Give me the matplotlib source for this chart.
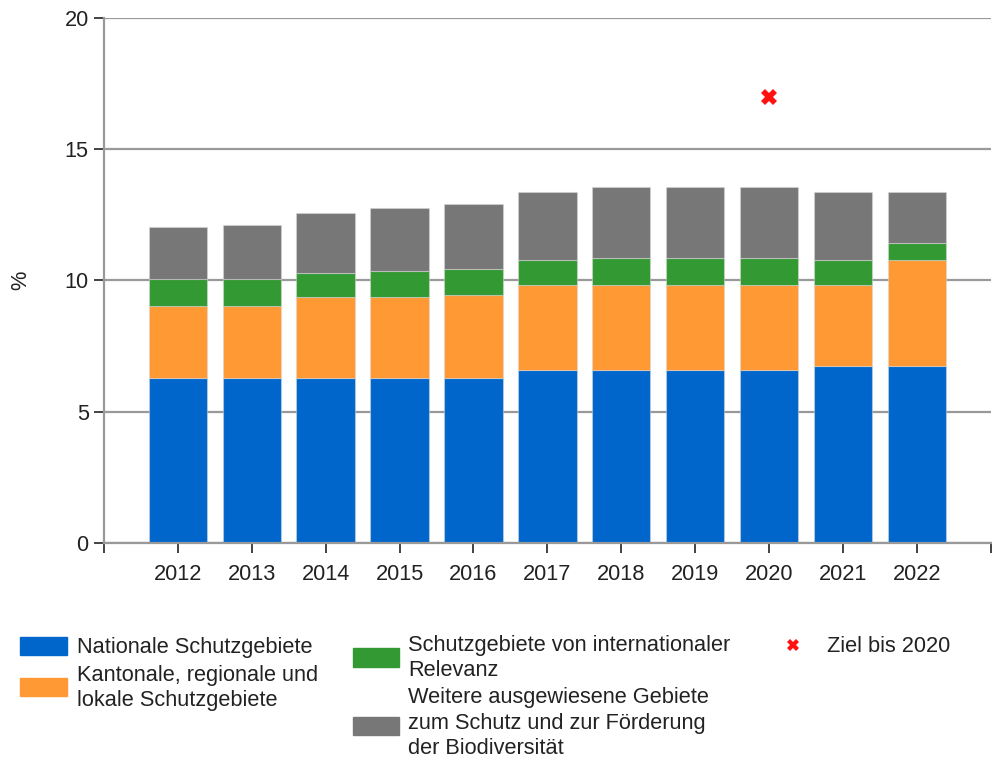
import numpy as np
import matplotlib.pyplot as plt
from matplotlib.patches import Rectangle
from matplotlib.lines import Line2D

plt.rcParams['font.family'] = ['Liberation Sans', 'DejaVu Sans']

years = ["2012", "2013", "2014", "2015", "2016", "2017", "2018", "2019", "2020", "2021", "2022"]
national = [6.27, 6.27, 6.27, 6.27, 6.27, 6.59, 6.59, 6.59, 6.59, 6.74, 6.74]
cantonal = [2.77, 2.77, 3.09, 3.09, 3.17, 3.23, 3.24, 3.24, 3.24, 3.09, 4.04]
international = [1.02, 1.02, 0.94, 1.01, 1.01, 0.96, 1.03, 1.03, 1.03, 0.95, 0.64]
other = [1.97, 2.05, 2.28, 2.37, 2.45, 2.59, 2.68, 2.68, 2.68, 2.59, 1.95]
target_year = "2020"
target_value = 17.0

labels = ["Nationale Schutzgebiete",
          "Kantonale, regionale und\nlokale Schutzgebiete",
          "Schutzgebiete von internationaler\nRelevanz",
          "Weitere ausgewiesene Gebiete\nzum Schutz und zur Förderung\nder Biodiversität",
          "Ziel bis 2020"]
colors = ["#0066cc", "#ff9933", "#339933", "#777777"]

fs = 15.7
fig = plt.figure(figsize=(9.92, 7.61), dpi=100)
ax = fig.add_axes([0.1048, 0.2865, 0.894, 0.690])

x = np.arange(len(years))
bottom = np.zeros(len(years))
for vals, c in zip([national, cantonal, international, other], colors):
    ax.bar(x, vals, width=0.79, bottom=bottom, color=c, edgecolor=(0.85, 0.85, 0.85, 0.5),
           linewidth=0.8, zorder=2)
    bottom = bottom + np.array(vals)

ax.plot([years.index(target_year)], [target_value], marker="X", color="#ff1111",
        markersize=12, markeredgewidth=0, linestyle="none", zorder=3)

ax.set_xlim(-1, 11)
ax.set_ylim(0, 20)
ax.set_yticks([0, 5, 10, 15, 20])
ax.yaxis.grid(True, color="#999999", linewidth=1.6, zorder=0)
ax.set_xticks(x)
ax.set_xticklabels(years)
ax.set_xticks([-1, 11], minor=True)
ax.tick_params(axis="both", which="both", length=7, width=1.2, color="#222222",
               labelsize=fs, labelcolor="#222222")
ax.tick_params(axis="x", pad=8)
ax.tick_params(axis="y", pad=4)
for s in ["top", "right"]:
    ax.spines[s].set_visible(False)
for s in ["left", "bottom"]:
    ax.spines[s].set_color("#999999")
    ax.spines[s].set_linewidth(1.6)
ax.set_ylabel("%", fontsize=fs, color="#222222", labelpad=24)

# legend drawn in figure pixel coordinates
W, H = 992, 761
def box(px, py, w, h, c):
    fig.patches.append(Rectangle((px / W, 1 - (py + h) / H), w / W, h / H,
                                 transform=fig.transFigure, color=c))
def txt(px, py, s):
    fig.text(px / W, 1 - py / H, s, fontsize=fs, color="#222222",
             va="center", ha="left", linespacing=1.25)

box(20, 637, 47, 18, colors[0])
txt(77, 647, labels[0])
box(20, 678, 47, 18, colors[1])
txt(77, 688, labels[1])
box(353, 648, 46, 19, colors[2])
txt(408, 658, labels[2])
box(353, 717, 46, 18, colors[3])
txt(408, 723, labels[3])
fig.lines.append(Line2D([793 / W], [1 - 645 / H], marker="X", color="#ff1111",
                        markersize=9, markeredgewidth=0, transform=fig.transFigure))
txt(827, 646, labels[4])

fig.savefig("out.png", dpi=100)
